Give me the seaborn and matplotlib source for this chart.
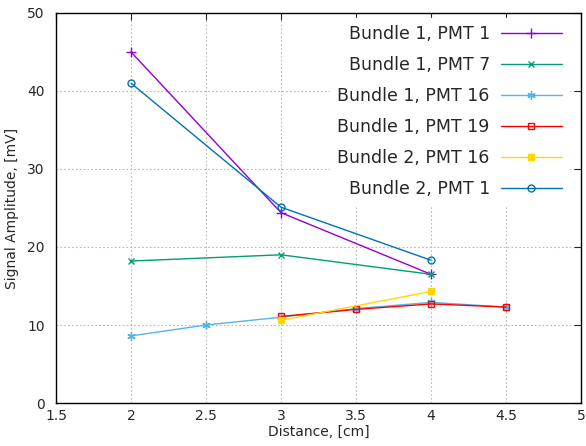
import matplotlib
matplotlib.use("Agg")
import matplotlib.pyplot as plt
import pandas as pd
import seaborn as sns

# series values
b1_pmt1_x = [2, 3, 4]
b1_pmt1_y = [45.0, 24.4, 16.5]
b1_pmt7_x = [2, 3, 4]
b1_pmt7_y = [18.2, 19.0, 16.5]
b1_pmt16_x = [2, 2.5, 3, 3.5, 4, 4.5]
b1_pmt16_y = [8.6, 10.0, 11.0, 12.1, 12.9, 12.3]
b1_pmt19_x = [3, 3.5, 4, 4.5]
b1_pmt19_y = [11.1, 12.0, 12.7, 12.3]
b2_pmt16_x = [3, 4]
b2_pmt16_y = [10.6, 14.3]
b2_pmt1_x = [2, 3, 4]
b2_pmt1_y = [41.0, 25.1, 18.3]

x_ticks = [1.5, 2, 2.5, 3, 3.5, 4, 4.5, 5]
y_ticks = [0, 10, 20, 30, 40, 50]

series = [
    ("Bundle 1, PMT 1", b1_pmt1_x, b1_pmt1_y, "#9400d3", "+", "none", 6.5),
    ("Bundle 1, PMT 7", b1_pmt7_x, b1_pmt7_y, "#009e73", "x", "none", 5),
    ("Bundle 1, PMT 16", b1_pmt16_x, b1_pmt16_y, "#56b4e9", (6, 2, 0), "none", 6),
    ("Bundle 1, PMT 19", b1_pmt19_x, b1_pmt19_y, "#ff0000", "s", "none", 5),
    ("Bundle 2, PMT 16", b2_pmt16_x, b2_pmt16_y, "#ffd700", "s", "full", 5),
    ("Bundle 2, PMT 1", b2_pmt1_x, b2_pmt1_y, "#0072b2", "o", "none", 5),
]

sns.set_style("white")
plt.rcParams["font.family"] = ["DejaVu Sans"]

fig = plt.figure(figsize=(5.86, 4.46), dpi=100)
ax = fig.add_axes([0.0956, 0.0964, 0.8959, 0.8745])

for label, xs, ys, color, marker, fill, msize in series:
    df = pd.DataFrame({"x": xs, "y": ys})
    sns.lineplot(
        data=df, x="x", y="y", ax=ax, color=color, marker=marker,
        markersize=msize, linewidth=1, label=label, fillstyle=fill,
        markeredgewidth=1, markeredgecolor=color,
    )

ax.set_xlim(1.5, 5)
ax.set_ylim(0, 50)
ax.set_xticks(x_ticks)
ax.set_xticklabels(["1.5", "2", "2.5", "3", "3.5", "4", "4.5", "5"])
ax.set_yticks(y_ticks)
ax.grid(True, color="#b8b8b8", linestyle=(0, (1.5, 2)), linewidth=0.8)
ax.tick_params(direction="in", top=True, right=True, length=5, labelsize=10)
ax.tick_params(axis="y", pad=8)
ax.tick_params(axis="x", pad=4)
for sp in ax.spines.values():
    sp.set_color("black")
    sp.set_linewidth(1)
ax.set_xlabel("Distance, [cm]", fontsize=10, labelpad=2)
ax.set_ylabel("Signal Amplitude, [mV]", fontsize=10, labelpad=6)

leg = ax.legend(
    loc="upper right", bbox_to_anchor=(1 - 7 / 525, 1), markerfirst=False,
    fontsize=12.5, frameon=True, fancybox=False, framealpha=1,
    edgecolor="white", handlelength=3.5, labelspacing=0.75,
    borderaxespad=0.3, handletextpad=0.65,
)
for t in leg.get_texts():
    t.set_ha("right")
leg._legend_box.align = "right"

fig.savefig("out.png", dpi=100)
